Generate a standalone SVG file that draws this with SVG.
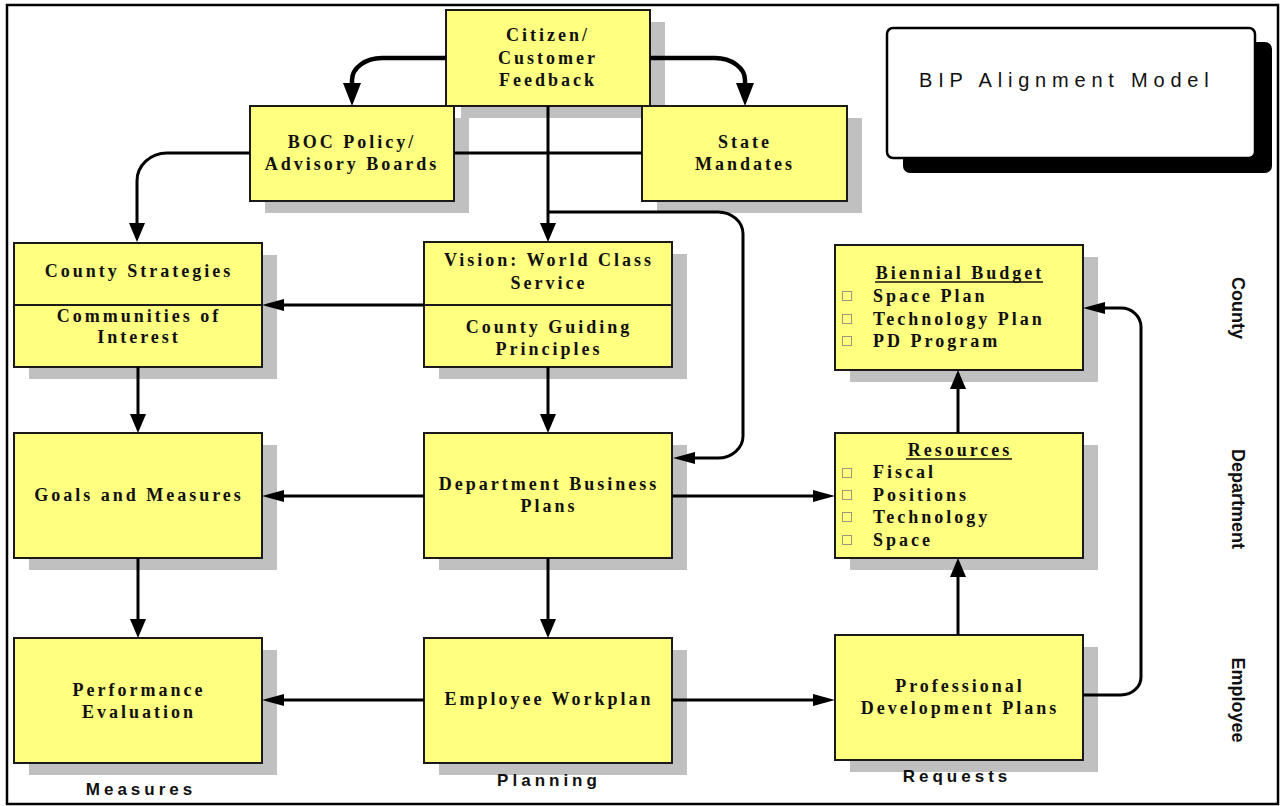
<svg xmlns="http://www.w3.org/2000/svg" width="1280" height="806" viewBox="0 0 1280 806">
<style>
.sh{fill:#C0C0C0}
.bx{fill:#FFFF80;stroke:#1a1a1a;stroke-width:2}
.dv{stroke:#1a1a1a;stroke-width:2}
.t{font-family:"Liberation Serif","Times New Roman",serif;font-weight:bold;font-size:18px;letter-spacing:3px;fill:#111;text-anchor:middle}
.tl{font-family:"Liberation Serif","Times New Roman",serif;font-weight:bold;font-size:18px;letter-spacing:3px;fill:#111}
.ul{stroke:#111;stroke-width:1.5}
.bl{fill:none;stroke:#9a9a7a;stroke-width:1}
.lab{font-family:"Liberation Sans",Arial,sans-serif;font-weight:bold;font-size:17px;letter-spacing:4px;fill:#111;text-anchor:middle}
.vl{font-family:"Liberation Sans",Arial,sans-serif;font-weight:bold;font-size:18px;fill:#111;text-anchor:middle}
.c{fill:none;stroke:#000;stroke-width:3}
.ck{fill:none;stroke:#000;stroke-width:4.5}
</style>
<defs>
<marker id="ak" markerUnits="userSpaceOnUse" markerWidth="23" markerHeight="18" viewBox="0 0 23 18" refX="0" refY="9" orient="auto"><path d="M0,0 L23,9 L0,18 z" fill="#000"/></marker>
<marker id="av" markerUnits="userSpaceOnUse" markerWidth="19" markerHeight="16" viewBox="0 0 19 16" refX="0" refY="8" orient="auto"><path d="M0,0 L19,8 L0,16 z" fill="#000"/></marker>
<marker id="ah" markerUnits="userSpaceOnUse" markerWidth="22" markerHeight="12" viewBox="0 0 22 12" refX="0" refY="6" orient="auto"><path d="M0,0 L22,6 L0,12 z" fill="#000"/></marker>
</defs>
<rect x="0" y="0" width="1280" height="806" fill="#fff"/>
<rect id="frame" x="7" y="5" width="1271" height="799" fill="none" stroke="#000" stroke-width="2.5"/>

<g id="title">
<rect x="903" y="42" width="369" height="131" rx="7" fill="#000"/>
<rect x="887" y="28" width="368" height="130" rx="6" fill="#fff" stroke="#000" stroke-width="2.5"/>
<text x="919" y="87" font-family="'Liberation Sans',Arial,sans-serif" font-size="20" letter-spacing="5.8" fill="#111">BIP Alignment Model</text>
</g>

<g id="citizen">
<rect class="sh" x="461" y="22" width="204" height="96"/>
<rect class="bx" x="446" y="10" width="204" height="96"/>
<text class="t" x="548" y="41">Citizen/</text>
<text class="t" x="548" y="64">Customer</text>
<text class="t" x="548" y="86">Feedback</text>
</g>

<g id="boc">
<rect class="sh" x="265" y="118" width="204" height="95"/>
<rect class="bx" x="250" y="106" width="204" height="95"/>
<text class="t" x="352" y="148">BOC Policy/</text>
<text class="t" x="352" y="170">Advisory Boards</text>
</g>

<g id="state">
<rect class="sh" x="657" y="118" width="205" height="95"/>
<rect class="bx" x="642" y="106" width="205" height="95"/>
<text class="t" x="745" y="148">State</text>
<text class="t" x="745" y="170">Mandates</text>
</g>

<g id="county-strategies">
<rect class="sh" x="29" y="255" width="248" height="124"/>
<rect class="bx" x="14" y="243" width="248" height="124"/>
<line class="dv" x1="14" y1="305" x2="262" y2="305"/>
<text class="t" x="139" y="277">County Strategies</text>
<text class="t" x="139" y="322">Communities of</text>
<text class="t" x="139" y="343">Interest</text>
</g>

<g id="vision">
<rect class="sh" x="439" y="254" width="248" height="125"/>
<rect class="bx" x="424" y="242" width="248" height="125"/>
<line class="dv" x1="424" y1="305" x2="672" y2="305"/>
<text class="t" x="549" y="266">Vision: World Class</text>
<text class="t" x="549" y="289">Service</text>
<text class="t" x="549" y="333">County Guiding</text>
<text class="t" x="549" y="355">Principles</text>
</g>

<g id="biennial">
<rect class="sh" x="850" y="257" width="248" height="125"/>
<rect class="bx" x="835" y="245" width="248" height="125"/>
<text class="t" x="960" y="279">Biennial Budget</text>
<line class="ul" x1="875" y1="282" x2="1043" y2="282"/>
<rect class="bl" x="842.5" y="291.5" width="9" height="9"/>
<rect class="bl" x="842.5" y="314.5" width="9" height="9"/>
<rect class="bl" x="842.5" y="336.5" width="9" height="9"/>
<text class="tl" x="873" y="302">Space Plan</text>
<text class="tl" x="873" y="325">Technology Plan</text>
<text class="tl" x="873" y="347">PD Program</text>
</g>

<g id="goals">
<rect class="sh" x="29" y="445" width="248" height="125"/>
<rect class="bx" x="14" y="433" width="248" height="125"/>
<text class="t" x="139" y="501">Goals and Measures</text>
</g>

<g id="dept">
<rect class="sh" x="439" y="445" width="248" height="125"/>
<rect class="bx" x="424" y="433" width="248" height="125"/>
<text class="t" x="549" y="490">Department Business</text>
<text class="t" x="549" y="512">Plans</text>
</g>

<g id="resources">
<rect class="sh" x="850" y="445" width="248" height="125"/>
<rect class="bx" x="835" y="433" width="248" height="125"/>
<text class="t" x="960" y="456">Resources</text>
<line class="ul" x1="906" y1="459" x2="1012" y2="459"/>
<rect class="bl" x="842.5" y="468.5" width="9" height="9"/>
<rect class="bl" x="842.5" y="490.5" width="9" height="9"/>
<rect class="bl" x="842.5" y="512.5" width="9" height="9"/>
<rect class="bl" x="842.5" y="535.5" width="9" height="9"/>
<text class="tl" x="873" y="478">Fiscal</text>
<text class="tl" x="873" y="501">Positions</text>
<text class="tl" x="873" y="523">Technology</text>
<text class="tl" x="873" y="546">Space</text>
</g>

<g id="perf">
<rect class="sh" x="29" y="650" width="248" height="125"/>
<rect class="bx" x="14" y="638" width="248" height="125"/>
<text class="t" x="139" y="696">Performance</text>
<text class="t" x="139" y="718">Evaluation</text>
</g>

<g id="workplan">
<rect class="sh" x="439" y="650" width="248" height="125"/>
<rect class="bx" x="424" y="638" width="248" height="125"/>
<text class="t" x="549" y="705">Employee Workplan</text>
</g>

<g id="profdev">
<rect class="sh" x="850" y="647" width="248" height="125"/>
<rect class="bx" x="835" y="635" width="248" height="125"/>
<text class="t" x="960" y="692">Professional</text>
<text class="t" x="960" y="714">Development Plans</text>
</g>

<g id="connectors">
<path class="ck" d="M446,58 H382 A30,22 0 0 0 352,80 V83" marker-end="url(#ak)"/>
<path class="ck" d="M650,58 H715 A30,22 0 0 1 745,80 V83" marker-end="url(#ak)"/>
<path class="c" d="M250,153 H167 A30,28 0 0 0 137,181 V223" marker-end="url(#av)"/>
<path class="c" d="M454,153 H642"/>
<path class="c" d="M548,106 V223" marker-end="url(#av)"/>
<path class="c" d="M548,212 H718 A25,22 0 0 1 743,234 V436 A25,22 0 0 1 718,458 H695" marker-end="url(#ah)"/>
<path class="c" d="M424,305 H284" marker-end="url(#ah)"/>
<path class="c" d="M138,367 V414" marker-end="url(#av)"/>
<path class="c" d="M548,367 V414" marker-end="url(#av)"/>
<path class="c" d="M424,496 H284" marker-end="url(#ah)"/>
<path class="c" d="M672,496 H813" marker-end="url(#ah)"/>
<path class="c" d="M138,558 V619" marker-end="url(#av)"/>
<path class="c" d="M548,558 V619" marker-end="url(#av)"/>
<path class="c" d="M424,700 H284" marker-end="url(#ah)"/>
<path class="c" d="M672,700 H813" marker-end="url(#ah)"/>
<path class="c" d="M958,635 V577" marker-end="url(#av)"/>
<path class="c" d="M958,433 V389" marker-end="url(#av)"/>
<path class="c" d="M1083,695 H1121 A20,18 0 0 0 1141,677 V327 A20,19 0 0 0 1121,308 H1105" marker-end="url(#ah)"/>
</g>

<g id="labels">
<text class="lab" x="141" y="795">Measures</text>
<text class="lab" x="549" y="786">Planning</text>
<text class="lab" x="957" y="782">Requests</text>
<text class="vl" transform="translate(1232,308) rotate(90)">County</text>
<text class="vl" transform="translate(1232,499) rotate(90)">Department</text>
<text class="vl" transform="translate(1232,700) rotate(90)">Employee</text>
</g>
</svg>
